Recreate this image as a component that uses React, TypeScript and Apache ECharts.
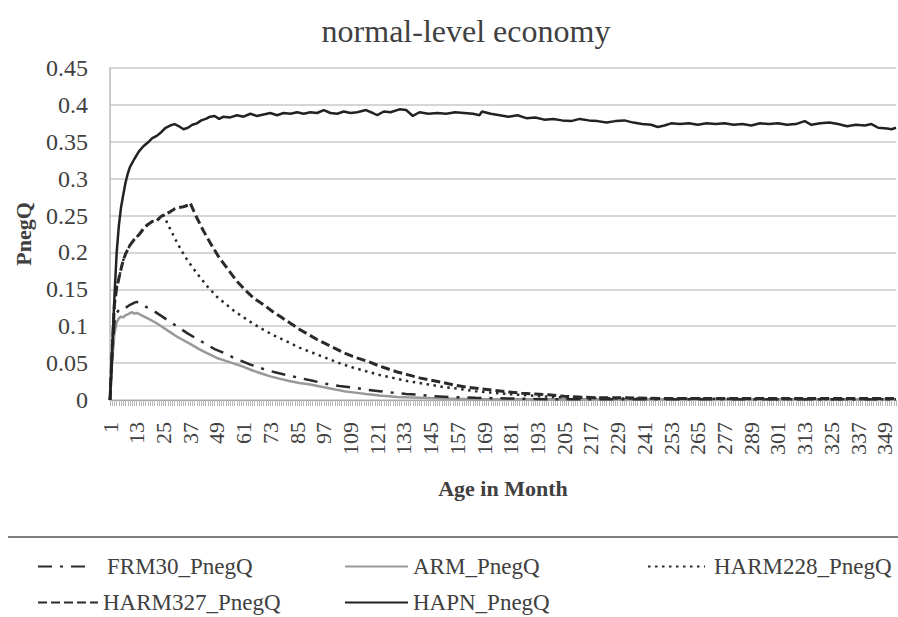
import React, { useEffect, useRef } from "react";
import * as echarts from "echarts";

const monthLabels: string[] = Array.from({ length: 354 }, (_, i) => String(i + 1));

const hapnMonths = [1,2,3,4,5,6,7,8,9,10,12,14,16,18,20,22,24,26,28,30,32,34,36,38,40,42,44,46,48,50,52,55,58,61,64,67,70,73,76,79,82,85,88,91,94,97,100,103,106,109,112,116,119,121,124,127,131,134,137,140,144,148,152,156,160,164,167,168,172,176,180,184,188,192,196,200,204,208,212,216,220,224,228,232,236,240,244,247,250,253,257,261,265,269,273,277,281,285,289,293,297,301,305,309,313,316,320,324,328,332,336,340,343,346,350,352,354];
const hapnValues = [0,0.07,0.14,0.2,0.237,0.262,0.279,0.295,0.307,0.316,0.327,0.337,0.344,0.349,0.355,0.358,0.363,0.369,0.372,0.374,0.371,0.367,0.369,0.373,0.375,0.379,0.381,0.384,0.385,0.381,0.384,0.383,0.386,0.384,0.388,0.385,0.387,0.389,0.386,0.389,0.388,0.39,0.388,0.39,0.389,0.393,0.389,0.388,0.391,0.389,0.39,0.393,0.389,0.386,0.391,0.39,0.394,0.393,0.385,0.39,0.388,0.389,0.388,0.39,0.389,0.388,0.386,0.391,0.388,0.386,0.384,0.386,0.382,0.383,0.38,0.381,0.379,0.378,0.381,0.379,0.378,0.376,0.378,0.379,0.376,0.374,0.373,0.37,0.372,0.375,0.374,0.375,0.373,0.375,0.374,0.375,0.373,0.374,0.372,0.375,0.374,0.375,0.373,0.374,0.378,0.373,0.375,0.376,0.374,0.371,0.373,0.372,0.374,0.369,0.368,0.367,0.369];

const harm327Months = [1,2,3,4,5,6,7,8,10,12,14,16,18,20,22,24,26,28,30,32,34,36,37,40,43,46,50,54,58,62,66,70,74,78,82,86,90,94,98,102,106,110,114,118,122,126,130,135,140,145,150,156,162,168,174,180,186,192,198,205,212,220,230,250,280,320,354];
const harm327Values = [0,0.07,0.13,0.152,0.165,0.178,0.19,0.198,0.21,0.218,0.224,0.232,0.238,0.242,0.243,0.249,0.252,0.255,0.259,0.261,0.262,0.264,0.267,0.247,0.229,0.213,0.193,0.177,0.161,0.148,0.137,0.129,0.12,0.112,0.104,0.096,0.089,0.082,0.076,0.07,0.064,0.059,0.055,0.051,0.046,0.042,0.038,0.034,0.03,0.027,0.024,0.02,0.017,0.015,0.013,0.011,0.009,0.008,0.007,0.005,0.004,0.003,0.003,0.002,0.002,0.002,0.002];

const harm228Months = [1,2,3,4,5,6,7,8,10,12,14,16,18,20,22,24,25,27,29,31,33,35,38,41,45,49,53,57,61,65,70,75,80,86,92,98,104,110,116,122,128,134,140,146,152,158,165,172,180,190,200,212,230,260,300,354];
const harm228Values = [0,0.07,0.13,0.152,0.165,0.178,0.19,0.198,0.21,0.218,0.224,0.232,0.238,0.242,0.243,0.249,0.251,0.238,0.226,0.214,0.203,0.193,0.18,0.168,0.153,0.14,0.13,0.12,0.112,0.104,0.095,0.087,0.08,0.071,0.064,0.057,0.05,0.044,0.039,0.034,0.03,0.026,0.023,0.02,0.017,0.015,0.012,0.01,0.008,0.006,0.004,0.003,0.002,0.002,0.001,0.001];

const frm30Months = [1,2,3,4,5,6,8,10,12,13,15,18,21,24,27,30,33,36,40,44,48,52,56,60,64,68,72,76,80,86,92,98,104,110,116,122,128,134,140,146,155,165,180,200,354];
const frm30Values = [0,0.06,0.105,0.118,0.122,0.121,0.125,0.129,0.132,0.133,0.13,0.125,0.12,0.114,0.108,0.102,0.096,0.09,0.083,0.076,0.069,0.064,0.058,0.053,0.048,0.044,0.04,0.037,0.034,0.03,0.026,0.022,0.019,0.017,0.014,0.012,0.01,0.008,0.007,0.005,0.004,0.003,0.002,0.001,0.001];

const armMonths = [1,2,3,4,5,6,7,8,9,10,11,12,13,15,17,19,22,25,28,31,34,37,41,45,49,53,57,61,65,69,73,77,81,86,91,96,101,106,111,116,122,130,140,150,165,354];
const armValues = [0,0.055,0.09,0.105,0.111,0.113,0.112,0.115,0.116,0.118,0.119,0.117,0.118,0.115,0.112,0.109,0.104,0.098,0.092,0.086,0.081,0.076,0.069,0.063,0.057,0.053,0.049,0.045,0.04,0.036,0.032,0.029,0.026,0.023,0.021,0.018,0.015,0.012,0.01,0.008,0.006,0.004,0.003,0.002,0.001,0.001];

const seriesNames = ["FRM30_PnegQ", "ARM_PnegQ", "HARM228_PnegQ", "HARM327_PnegQ", "HAPN_PnegQ"];

const FONT = "Liberation Serif";
const TEXT = "#404040";

function pairs(months: number[], values: number[]) {
  return months.map((m, i) => [String(m), values[i]]);
}

export default function App() {
  const ref = useRef<HTMLDivElement>(null);
  useEffect(() => {
    if (!ref.current) return;
    const chart = echarts.init(ref.current, undefined, { renderer: "svg" });
    const legendText = { fontFamily: FONT, fontSize: 23, color: TEXT };
    const mkLegend = (name: string, left: number, top: number, w: number, pad: number) => ({
      data: [name],
      left,
      top,
      padding: 0,
      itemWidth: w,
      itemHeight: 14,
      selectedMode: false,
      itemStyle: { opacity: 0 },
      textStyle: { ...legendText, padding: [0, 0, 0, pad] },
    });
    chart.setOption({
      animation: false,
      backgroundColor: "#ffffff",
      title: {
        text: "normal-level economy",
        left: 461,
        textAlign: "center",
        top: 10,
        textStyle: { fontFamily: FONT, fontSize: 32, fontWeight: "normal", color: TEXT },
      },
      grid: { left: 110, right: 2, top: 68, bottom: 217, containLabel: false, outerBoundsMode: "none" },
      legend: [
        mkLegend(seriesNames[0], 37, 555, 52, 12),
        mkLegend(seriesNames[1], 344, 555, 63, 0),
        mkLegend(seriesNames[2], 647, 555, 57, 4),
        mkLegend(seriesNames[3], 37, 591, 60, 0),
        mkLegend(seriesNames[4], 344, 591, 63, 0),
      ],
      graphic: [
        {
          type: "line",
          shape: { x1: 8, y1: 537, x2: 898, y2: 537 },
          style: { stroke: "#555555", lineWidth: 1.5 },
        },
      ],
      xAxis: {
        type: "category",
        data: monthLabels,
        boundaryGap: false,
        name: "Age in Month",
        nameLocation: "middle",
        nameGap: 77,
        nameTextStyle: { fontFamily: FONT, fontSize: 22, fontWeight: "bold", color: TEXT },
        axisLine: { lineStyle: { color: "#a0a0a0", width: 1 } },
        axisTick: { show: true, interval: 0, length: 6, lineStyle: { color: "#b8b8b8", width: 1 } },
        axisLabel: {
          interval: 11,
          rotate: 90,
          margin: 22,
          fontFamily: FONT,
          fontSize: 22,
          color: TEXT,
        },
        splitLine: { show: false },
      },
      yAxis: {
        type: "value",
        min: 0,
        max: 0.45,
        interval: 0.05,
        name: "PnegQ",
        nameLocation: "middle",
        nameGap: 76,
        nameTextStyle: { fontFamily: FONT, fontSize: 22, fontWeight: "bold", color: TEXT },
        axisLine: { show: true, lineStyle: { color: "#b8b8b8", width: 1.5 } },
        axisTick: { show: false },
        axisLabel: { margin: 22, fontFamily: FONT, fontSize: 24, color: TEXT },
        splitLine: { show: true, lineStyle: { color: "#c8c8c8", width: 1.5 } },
      },
      series: [
        {
          name: seriesNames[1],
          type: "line",
          data: pairs(armMonths, armValues),
          symbol: "none",
          lineStyle: { color: "#999999", width: 2.5 },
          itemStyle: { color: "#999999" },
          z: 2,
        },
        {
          name: seriesNames[0],
          type: "line",
          data: pairs(frm30Months, frm30Values),
          symbol: "none",
          lineStyle: { color: "#2a2a2a", width: 2.5, type: [14, 8, 3, 8] },
          itemStyle: { color: "#2a2a2a" },
          z: 3,
        },
        {
          name: seriesNames[2],
          type: "line",
          data: pairs(harm228Months, harm228Values),
          symbol: "none",
          lineStyle: { color: "#2a2a2a", width: 2.5, type: [2.5, 4.5] },
          itemStyle: { color: "#2a2a2a" },
          z: 3,
        },
        {
          name: seriesNames[3],
          type: "line",
          data: pairs(harm327Months, harm327Values),
          symbol: "none",
          lineStyle: { color: "#2a2a2a", width: 3, type: [9, 4] },
          itemStyle: { color: "#2a2a2a" },
          z: 4,
        },
        {
          name: seriesNames[4],
          type: "line",
          data: pairs(hapnMonths, hapnValues),
          symbol: "none",
          lineStyle: { color: "#222222", width: 2.5 },
          itemStyle: { color: "#222222" },
          z: 5,
        },
      ],
    });
    return () => chart.dispose();
  }, []);
  return (
    <div
      ref={ref}
      style={{ position: "absolute", left: 0, top: 0, width: 898, height: 617, background: "#fff" }}
    />
  );
}
